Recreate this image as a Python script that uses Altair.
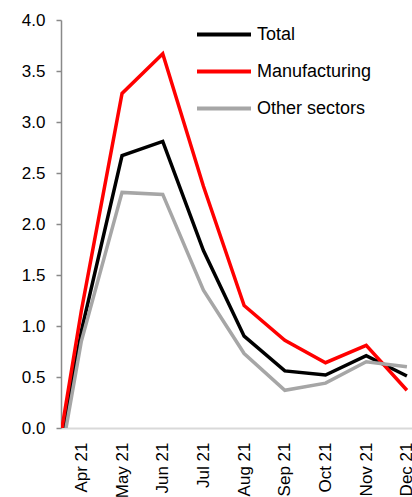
import altair as alt
import pandas as pd

months = ["Mar 21", "Apr 21", "May 21", "Jun 21", "Jul 21", "Aug 21",
          "Sep 21", "Oct 21", "Nov 21", "Dec 21"]
total = [-1.29, 0.95, 2.67, 2.81, 1.74, 0.90, 0.56, 0.52, 0.71, 0.51]
manufacturing = [-1.27, 1.15, 3.28, 3.67, 2.37, 1.20, 0.86, 0.64, 0.81, 0.37]
other_sectors = [-1.41, 0.85, 2.31, 2.29, 1.35, 0.73, 0.37, 0.44, 0.65, 0.60]

series_names = ["Total", "Manufacturing", "Other sectors"]
series_colors = ["#000000", "#ff0000", "#a6a6a6"]
y_ticks = [0.0, 0.5, 1.0, 1.5, 2.0, 2.5, 3.0, 3.5, 4.0]

rows = []
for name, vals in zip(series_names, [total, manufacturing, other_sectors]):
    for i, (m, v) in enumerate(zip(months, vals)):
        rows.append({"idx": i - 1, "month": m, "series": name, "value": v,
                     "order": series_names.index(name)})
df = pd.DataFrame(rows)

shown = months[1:]
label_expr = "[" + ",".join("'" + m + "'" for m in shown) + "][datum.value]"

chart = alt.Chart(df).mark_line(strokeWidth=3.5, clip=True).encode(
    x=alt.X("idx:Q",
            scale=alt.Scale(domain=[-0.5, 8.125], nice=False, zero=False),
            axis=alt.Axis(values=list(range(len(shown))), labelExpr=label_expr,
                          labelAngle=-90, labelAlign="right", labelBaseline="middle",
                          labelPadding=14, ticks=False, grid=False, title=None,
                          domainColor="#d9d9d9", domainWidth=2,
                          labelFontSize=17, labelColor="#000000",
                          labelFont="Liberation Sans", labelOverlap=False,
                          labelBound=False, labelFlush=False)),
    y=alt.Y("value:Q",
            scale=alt.Scale(domain=[0, 4], nice=False),
            axis=alt.Axis(values=y_ticks, format=".1f", grid=False, title=None,
                          tickSize=5, tickColor="#898989", domainColor="#898989",
                          domainWidth=1.5, tickWidth=1.5,
                          labelPadding=11, labelFontSize=17, labelColor="#000000",
                          labelFont="Liberation Sans")),
    color=alt.Color("series:N",
                    scale=alt.Scale(domain=series_names, range=series_colors),
                    legend=alt.Legend(title=None, orient="none", legendX=134, legendY=-4,
                                      symbolType="stroke", symbolSize=2916,
                                      symbolStrokeWidth=4, labelFontSize=18,
                                      labelFont="Liberation Sans", labelColor="#000000",
                                      clipHeight=37, rowPadding=0, labelOffset=4)),
    detail="series:N",
    order="order:Q",
).properties(
    width=351, height=408,
    autosize=alt.AutoSizeParams(type="none"),
    padding={"left": 61, "top": 20, "right": 0, "bottom": 69},
).configure_view(stroke=None)

chart.save("out.html", embed_options={"renderer": "svg", "actions": False})
